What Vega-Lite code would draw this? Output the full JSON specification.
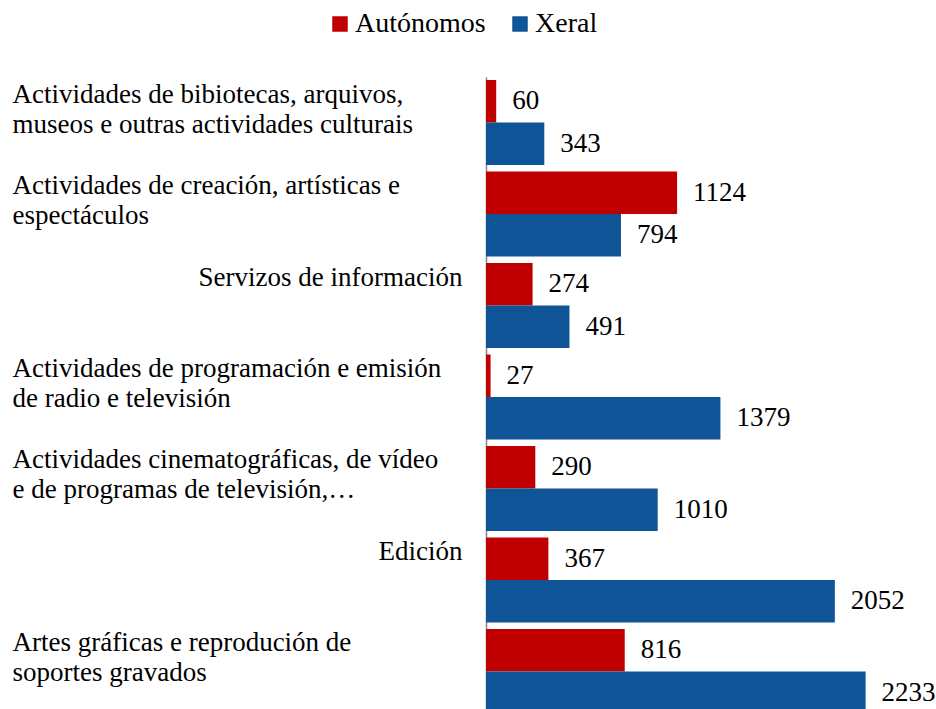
{
  "$schema": "https://vega.github.io/schema/vega-lite/v6.json",
  "width": 425,
  "height": 632,
  "autosize": {"type": "none"},
  "padding": {"left": 486, "top": 77, "right": 25, "bottom": 0},
  "background": "white",
  "config": {"view": {"stroke": null}, "font": "Liberation Serif"},
  "data": {
    "values": [
      {"categoria": "Actividades de bibiotecas, arquivos, museos e outras actividades culturais", "serie": "Autónomos", "valor": 60},
      {"categoria": "Actividades de bibiotecas, arquivos, museos e outras actividades culturais", "serie": "Xeral", "valor": 343},
      {"categoria": "Actividades de creación, artísticas e espectáculos", "serie": "Autónomos", "valor": 1124},
      {"categoria": "Actividades de creación, artísticas e espectáculos", "serie": "Xeral", "valor": 794},
      {"categoria": "Servizos de información", "serie": "Autónomos", "valor": 274},
      {"categoria": "Servizos de información", "serie": "Xeral", "valor": 491},
      {"categoria": "Actividades de programación e emisión de radio e televisión", "serie": "Autónomos", "valor": 27},
      {"categoria": "Actividades de programación e emisión de radio e televisión", "serie": "Xeral", "valor": 1379},
      {"categoria": "Actividades cinematográficas, de vídeo e de programas de televisión,…", "serie": "Autónomos", "valor": 290},
      {"categoria": "Actividades cinematográficas, de vídeo e de programas de televisión,…", "serie": "Xeral", "valor": 1010},
      {"categoria": "Edición", "serie": "Autónomos", "valor": 367},
      {"categoria": "Edición", "serie": "Xeral", "valor": 2052},
      {"categoria": "Artes gráficas e reprodución de soportes gravados", "serie": "Autónomos", "valor": 816},
      {"categoria": "Artes gráficas e reprodución de soportes gravados", "serie": "Xeral", "valor": 2233}
    ]
  },
  "encoding": {
    "y": {
      "field": "categoria",
      "type": "nominal",
      "sort": [
        "Actividades de bibiotecas, arquivos, museos e outras actividades culturais",
        "Actividades de creación, artísticas e espectáculos",
        "Servizos de información",
        "Actividades de programación e emisión de radio e televisión",
        "Actividades cinematográficas, de vídeo e de programas de televisión,…",
        "Edición",
        "Artes gráficas e reprodución de soportes gravados"
      ],
      "scale": {"range": [0, 640], "paddingInner": 0.071, "paddingOuter": 0.033},
      "axis": {
        "title": null,
        "ticks": false,
        "grid": false,
        "domainColor": "#868686",
        "domainWidth": 1.5,
        "labelFont": "Liberation Serif",
        "labelFontSize": 27,
        "labelColor": "black",
        "labelLineHeight": 30,
        "labelLimit": 0,
        "labelBaseline": "top",
        "labelOffset": -41,
        "labelAlign": {"condition": {"test": "datum.value == 'Servizos de información' || datum.value == 'Edición'", "value": "right"}, "value": "left"},
        "labelPadding": {"condition": {"test": "datum.value == 'Servizos de información' || datum.value == 'Edición'", "value": 24}, "value": 474},
        "labelExpr": "datum.value == 'Actividades de bibiotecas, arquivos, museos e outras actividades culturais' ? ['Actividades de bibiotecas, arquivos,', 'museos e outras actividades culturais'] : datum.value == 'Actividades de creación, artísticas e espectáculos' ? ['Actividades de creación, artísticas e', 'espectáculos'] : datum.value == 'Actividades de programación e emisión de radio e televisión' ? ['Actividades de programación e emisión', 'de radio e televisión'] : datum.value == 'Actividades cinematográficas, de vídeo e de programas de televisión,…' ? ['Actividades cinematográficas, de vídeo', 'e de programas de televisión,…'] : datum.value == 'Artes gráficas e reprodución de soportes gravados' ? ['Artes gráficas e reprodución de', 'soportes gravados'] : datum.value"
      }
    },
    "yOffset": {
      "field": "serie",
      "type": "nominal",
      "sort": ["Autónomos", "Xeral"],
      "scale": {"paddingInner": 0, "paddingOuter": 0}
    },
    "x": {
      "field": "valor",
      "type": "quantitative",
      "scale": {"domain": [0, 2500], "nice": false},
      "axis": null
    }
  },
  "layer": [
    {
      "mark": {"type": "bar"},
      "encoding": {
        "color": {
          "field": "serie",
          "type": "nominal",
          "sort": ["Autónomos", "Xeral"],
          "scale": {"domain": ["Autónomos", "Xeral"], "range": ["#C00000", "#0F5496"]},
          "legend": {
            "orient": "none",
            "legendX": -160,
            "legendY": -67,
            "direction": "horizontal",
            "title": null,
            "symbolType": "square",
            "symbolSize": 240,
            "symbolStrokeWidth": 0,
            "labelFont": "Liberation Serif",
            "labelFontSize": 28,
            "labelColor": "black",
            "labelOffset": 1,
            "columnPadding": 20,
            "padding": 0
          }
        }
      }
    },
    {
      "mark": {"type": "text", "align": "left", "baseline": "middle", "dx": 16, "fontSize": 27, "font": "Liberation Serif", "color": "black"},
      "encoding": {
        "text": {"field": "valor", "type": "quantitative", "format": "d"}
      }
    }
  ]
}
